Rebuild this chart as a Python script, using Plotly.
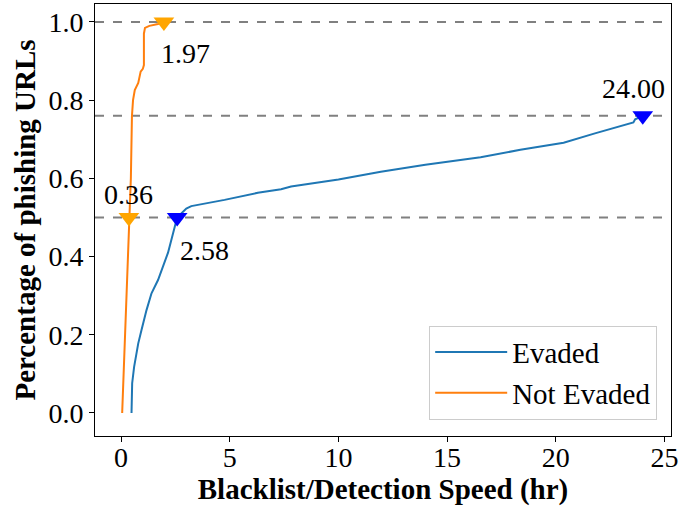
import plotly.graph_objects as go

# Data
evaded_x = [0.48, 0.51, 0.60, 0.79, 0.94, 1.17, 1.40, 1.70, 2.16, 2.58, 3.00, 3.23, 4.76, 6.29, 7.36, 7.82,
            10.0, 11.95, 14.0, 16.08, 16.54, 18.37, 20.36, 21.8, 22.88, 23.57, 23.65, 24.0]
evaded_y = [0.0, 0.076, 0.118, 0.178, 0.212, 0.263, 0.306, 0.34, 0.41, 0.50, 0.523, 0.529, 0.545, 0.563, 0.572, 0.579,
            0.597, 0.617, 0.635, 0.649, 0.654, 0.673, 0.691, 0.715, 0.732, 0.743, 0.751, 0.76]

not_evaded_x = [0.05, 0.10, 0.17, 0.30, 0.36, 0.45, 0.50, 0.55, 0.63, 0.79, 0.90, 1.00, 1.05, 1.05, 1.10, 1.30, 1.70, 1.97]
not_evaded_y = [0.0, 0.077, 0.20, 0.37, 0.50, 0.60, 0.76, 0.80, 0.826, 0.844, 0.873, 0.88, 0.89, 0.97, 0.985, 0.99, 0.995, 1.0]

hlines = [1.0, 0.76, 0.5]

ne_marks_x = [0.36, 1.97]
ne_marks_y = [0.5, 1.0]
ev_marks_x = [2.58, 24.0]
ev_marks_y = [0.5, 0.76]

x_ticks = [0, 5, 10, 15, 20, 25]
y_ticks = [0.0, 0.2, 0.4, 0.6, 0.8, 1.0]

FONT = "Liberation Serif"

fig = go.Figure()

for h in hlines:
    fig.add_shape(type="line", xref="paper", x0=0, x1=1, yref="y", y0=h, y1=h,
                  line=dict(color="#808080", width=2, dash="dash"), layer="below")

fig.add_trace(go.Scatter(x=evaded_x, y=evaded_y, mode="lines", name="Evaded",
                         line=dict(color="#1f77b4", width=2)))
fig.add_trace(go.Scatter(x=not_evaded_x, y=not_evaded_y, mode="lines", name="Not Evaded",
                         line=dict(color="#ff7f0e", width=2)))

fig.add_trace(go.Scatter(x=ne_marks_x, y=ne_marks_y, mode="markers", showlegend=False,
                         marker=dict(symbol="triangle-down", size=18, color="orange")))
fig.add_trace(go.Scatter(x=ev_marks_x, y=ev_marks_y, mode="markers", showlegend=False,
                         marker=dict(symbol="triangle-down", size=18, color="blue")))

ann_font = dict(family=FONT, size=28, color="black")
fig.add_annotation(x=1.97, y=1.0, text="1.97", showarrow=False, xanchor="left", yanchor="middle",
                   xshift=-5, yshift=-32, font=ann_font)
fig.add_annotation(x=0.36, y=0.5, text="0.36", showarrow=False, xanchor="center", yanchor="middle",
                   xshift=0, yshift=23, font=ann_font)
fig.add_annotation(x=2.58, y=0.5, text="2.58", showarrow=False, xanchor="left", yanchor="middle",
                   xshift=1, yshift=-33, font=ann_font)
fig.add_annotation(x=24.0, y=0.76, text="24.00", showarrow=False, xanchor="center", yanchor="middle",
                   xshift=-9, yshift=27, font=ann_font)

axis_common = dict(showline=True, linecolor="black", linewidth=1, mirror=True,
                   ticks="outside", ticklen=5, tickcolor="black", showgrid=False, zeroline=False,
                   tickfont=dict(family=FONT, size=28, color="black"))

fig.update_xaxes(range=[-1.2, 25.3], tickvals=x_ticks, ticktext=[str(v) for v in x_ticks],
                 ticklabelstandoff=-9,
                 title=dict(text="<b>Blacklist/Detection Speed (hr)</b>",
                            font=dict(family=FONT, size=29, color="black"), standoff=4),
                 **axis_common)
fig.update_yaxes(range=[-0.059, 1.046], tickvals=y_ticks, ticktext=[f"{v:.1f}" for v in y_ticks],
                 title=dict(text="<b>Percentage of phishing URLs</b>",
                            font=dict(family=FONT, size=29, color="black"), standoff=4),
                 **axis_common)

fig.update_layout(
    width=681, height=506,
    margin=dict(l=95, r=10, t=4, b=70),
    plot_bgcolor="white", paper_bgcolor="white",
    legend=dict(x=0.976, y=0.038, xanchor="right", yanchor="bottom",
                bgcolor="white", bordercolor="#cccccc", borderwidth=1,
                font=dict(family=FONT, size=29, color="black"),
                itemwidth=72, tracegroupgap=0),
)

fig.write_html("out.html")
